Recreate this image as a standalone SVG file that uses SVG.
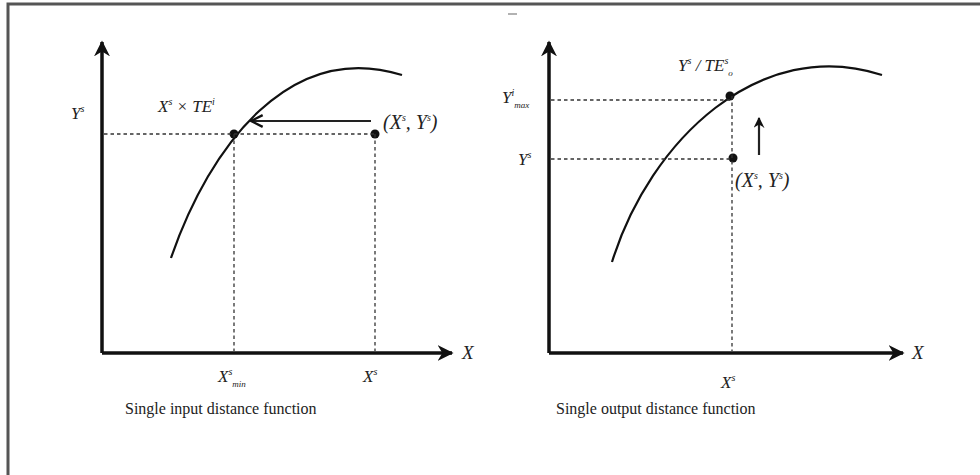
<svg xmlns="http://www.w3.org/2000/svg" width="980" height="475" viewBox="0 0 980 475">
<defs>
<marker id="ah" viewBox="0 0 10 10" refX="9" refY="5" markerWidth="11" markerHeight="11" markerUnits="userSpaceOnUse" orient="auto">
<path d="M0,0 L10,5 L0,10 L3,5 Z" fill="#111"/>
</marker>
<marker id="ahBig" viewBox="0 0 10 10" refX="9" refY="5" markerWidth="16" markerHeight="16" markerUnits="userSpaceOnUse" orient="auto">
<path d="M0,0 L10,5 L0,10 L3,5 Z" fill="#111"/>
</marker>
<marker id="ahOpen" viewBox="0 0 12 12" refX="11" refY="6" markerWidth="14" markerHeight="14" markerUnits="userSpaceOnUse" orient="auto">
<path d="M1,1 L11,6 L1,11" fill="none" stroke="#111" stroke-width="2"/>
</marker>
</defs>
<style>
.axis{stroke:#111;stroke-width:3.5;fill:none}
.curve{stroke:#111;stroke-width:2.2;fill:none}
.dash{stroke:#333;stroke-width:1.3;stroke-dasharray:3.5 3;fill:none}
.arr{stroke:#222;stroke-width:2.2;fill:none}
.dot{fill:#111}
.m{font-family:"Liberation Serif",serif;font-style:italic;fill:#222}
.cap{font-family:"Liberation Serif",serif;font-size:16px;fill:#222}
</style>
<rect width="980" height="475" fill="#fff"/>
<path d="M8,475 V4 H980" stroke="#555" stroke-width="3" fill="none"/>
<line x1="508" y1="14" x2="517" y2="14" stroke="#999" stroke-width="1.5"/>

<g id="left-chart">
<g id="left-axes">
<path class="axis" d="M102,353 V42" marker-end="url(#ahBig)"/>
<path class="axis" d="M102,353 H452" marker-end="url(#ahBig)"/>
<text class="m" x="462" y="359" font-size="19">X</text>
</g>
<g id="left-frontier">
<path class="curve" d="M171,258 C210,145 290,40 402,75"/>
</g>
<g id="left-point-xs">
<circle class="dot" cx="375" cy="134" r="4.5"/>
<text class="m" x="383" y="129" font-size="20">(X<tspan font-size="10" dy="-8">s</tspan><tspan dy="8">, Y</tspan><tspan font-size="10" dy="-8">s</tspan><tspan dy="8">)</tspan></text>
</g>
<g id="left-point-eff">
<circle class="dot" cx="234" cy="134" r="4.5"/>
<text class="m" x="158" y="112" font-size="17">X<tspan font-size="10" dy="-7">s</tspan><tspan dy="7"> × TE</tspan><tspan font-size="10" dy="-7">i</tspan></text>
</g>
<g id="left-labels">
<text class="m" x="71" y="119" font-size="17">Y<tspan font-size="10" dy="-7">s</tspan></text>
<text class="m" x="218" y="382" font-size="17">X<tspan font-size="10" dy="-7">s</tspan><tspan font-size="9" dy="12">min</tspan></text>
<text class="m" x="363" y="382" font-size="17">X<tspan font-size="10" dy="-7">s</tspan></text>
<text class="cap" x="125" y="414">Single input distance function</text>
</g>
</g>

<g id="right-chart">
<g id="right-axes">
<path class="axis" d="M549,353 V42" marker-end="url(#ahBig)"/>
<path class="axis" d="M549,353 H903" marker-end="url(#ahBig)"/>
<text class="m" x="912" y="359" font-size="19">X</text>
</g>
<g id="right-frontier">
<path class="curve" d="M612,262 C650,140 760,35 882,75"/>
</g>
<g id="right-point-xs">
<circle class="dot" cx="733" cy="158" r="4.5"/>
<text class="m" x="735" y="187" font-size="20">(X<tspan font-size="10" dy="-8">s</tspan><tspan dy="8">, Y</tspan><tspan font-size="10" dy="-8">s</tspan><tspan dy="8">)</tspan></text>
</g>
<g id="right-point-eff">
<circle class="dot" cx="730" cy="96" r="4.5"/>
<text class="m" x="678" y="71" font-size="17">Y<tspan font-size="10" dy="-7">s</tspan><tspan dy="7"> / TE</tspan><tspan font-size="10" dy="-7">s</tspan><tspan font-size="9" dy="12">o</tspan></text>
</g>
<g id="right-labels">
<text class="m" x="502" y="103" font-size="17">Y<tspan font-size="10" dy="-7">i</tspan><tspan font-size="9" dy="12">max</tspan></text>
<text class="m" x="518" y="165" font-size="17">Y<tspan font-size="10" dy="-7">s</tspan></text>
<text class="m" x="721" y="388" font-size="17">X<tspan font-size="10" dy="-7">s</tspan></text>
<text class="cap" x="556" y="414">Single output distance function</text>
</g>
</g>

<g id="connectors">
<path class="dash" d="M104,134 H375"/>
<path class="dash" d="M234,134 V351"/>
<path class="dash" d="M375,134 V351"/>
<path class="arr" d="M371,121 H251" marker-end="url(#ahOpen)"/>
<path class="dash" d="M551,100 H730"/>
<path class="dash" d="M551,159 H733"/>
<path class="dash" d="M732,96 V351"/>
<path class="arr" d="M759,155 V118" marker-end="url(#ah)"/>
</g>
</svg>
